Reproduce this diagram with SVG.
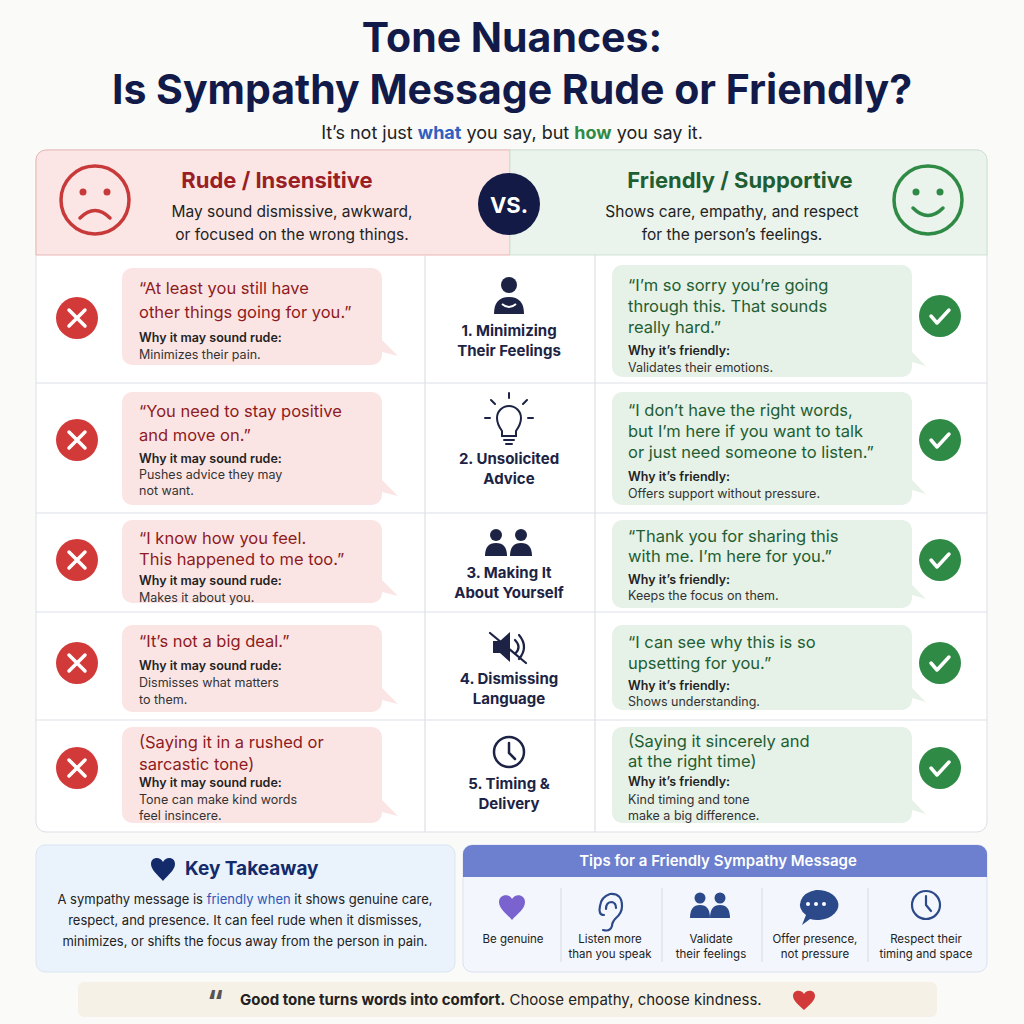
<svg xmlns="http://www.w3.org/2000/svg" width="1024" height="1024" viewBox="0 0 1024 1024">
<style>
text{font-family:"Inter","Liberation Sans",sans-serif}
.t{font-weight:700;fill:#111a48;text-anchor:middle}
.q{font-size:16.5px;fill:#8e1b22}
.qg{font-size:16.5px;fill:#1f5e32}
.w{font-size:12.5px;font-weight:600;fill:#222}
.d{font-size:12.5px;fill:#333}
.lab{font-size:15px;font-weight:700;fill:#1c2344;text-anchor:middle}
.bl{fill:#fbe5e4}
.bg{fill:#e6f1e7}
.sep{stroke:#dcdfe6;stroke-width:1.2}
.tip{font-size:11.5px;fill:#222;text-anchor:middle}
</style>
<rect width="1024" height="1024" fill="#fafaf8"/>
<text class="t" x="512" y="52" font-size="41">Tone Nuances:</text>
<text class="t" x="512" y="104" font-size="41">Is Sympathy Message Rude or Friendly?</text>
<text x="512" y="139" font-size="18" text-anchor="middle" fill="#222">It’s not just <tspan fill="#3060c0" font-weight="700">what</tspan> you say, but <tspan fill="#2f8a45" font-weight="700">how</tspan> you say it.</text>

<g id="panel">
<rect x="36" y="150" width="951" height="682" rx="10" fill="#fff" stroke="#dcdfe6"/>
<path d="M46 150H510V255H36V160A10 10 0 0 1 46 150Z" fill="#fbe6e5" stroke="#e7b7b5"/>
<path d="M510 150H977A10 10 0 0 1 987 160V255H510Z" fill="#eaf3ec" stroke="#cfe3d3"/>
<line class="sep" x1="36" y1="383" x2="987" y2="383"/>
<line class="sep" x1="36" y1="513" x2="987" y2="513"/>
<line class="sep" x1="36" y1="612" x2="987" y2="612"/>
<line class="sep" x1="36" y1="720" x2="987" y2="720"/>
<line class="sep" x1="425" y1="255" x2="425" y2="832"/>
<line class="sep" x1="595" y1="255" x2="595" y2="832"/>
</g>

<g id="header-rude">
<circle cx="95" cy="200" r="34" fill="none" stroke="#c83a3a" stroke-width="3.5"/>
<circle cx="83" cy="192" r="3.5" fill="#c83a3a"/><circle cx="107" cy="192" r="3.5" fill="#c83a3a"/>
<path d="M80 218Q95 203 110 218" fill="none" stroke="#c83a3a" stroke-width="3.5" stroke-linecap="round"/>
<text x="277" y="188" font-size="22" font-weight="700" fill="#9a1f25" text-anchor="middle">Rude / Insensitive</text>
<text x="292" y="217" font-size="15.5" fill="#222" text-anchor="middle">May sound dismissive, awkward,</text>
<text x="292" y="240" font-size="15.5" fill="#222" text-anchor="middle">or focused on the wrong things.</text>
</g>
<g id="vs">
<circle cx="509" cy="204" r="31" fill="#121a45"/>
<text x="509" y="213" font-size="22" font-weight="700" fill="#fff" text-anchor="middle">VS.</text>
</g>
<g id="header-friendly">
<circle cx="928" cy="200" r="34" fill="none" stroke="#2f8a45" stroke-width="3.5"/>
<circle cx="916" cy="192" r="3.5" fill="#2f8a45"/><circle cx="940" cy="192" r="3.5" fill="#2f8a45"/>
<path d="M913 208Q928 223 943 208" fill="none" stroke="#2f8a45" stroke-width="3.5" stroke-linecap="round"/>
<text x="740" y="188" font-size="22" font-weight="700" fill="#1f5e32" text-anchor="middle">Friendly / Supportive</text>
<text x="732" y="217" font-size="15.5" fill="#222" text-anchor="middle">Shows care, empathy, and respect</text>
<text x="732" y="240" font-size="15.5" fill="#222" text-anchor="middle">for the person’s feelings.</text>
</g>

<defs>
<g id="xic"><circle r="21" fill="#d23a3a"/><path d="M-8-8L8 8M8-8L-8 8" stroke="#fff" stroke-width="3.5" stroke-linecap="round"/></g>
<g id="cic"><circle r="21" fill="#2f8a45"/><path d="M-9 0L-3 7L9-6" fill="none" stroke="#fff" stroke-width="3.5" stroke-linecap="round" stroke-linejoin="round"/></g>
</defs>

<g id="row1">
<path class="bl" d="M132 268H372A10 10 0 0 1 382 278V340L398 356L382 352V355A10 10 0 0 1 372 365H132A10 10 0 0 1 122 355V278A10 10 0 0 1 132 268Z"/>
<use href="#xic" x="77" y="318"/>
<text class="q" x="139" y="294">“At least you still have</text>
<text class="q" x="139" y="318">other things going for you.”</text>
<text class="w" x="139" y="342">Why it may sound rude:</text>
<text class="d" x="139" y="359">Minimizes their pain.</text>
<circle cx="509" cy="285" r="8" fill="#1c2344"/>
<path d="M494 314Q494 297 509 297Q524 297 524 314Z" fill="#1c2344"/>
<path d="M502 304Q509 310 516 304" fill="none" stroke="#fff" stroke-width="2"/>
<text class="lab" x="509" y="336">1. Minimizing</text>
<text class="lab" x="509" y="356">Their Feelings</text>
<path class="bg" d="M622 265H902A10 10 0 0 1 912 275V352L926 366L912 362V367A10 10 0 0 1 902 377H622A10 10 0 0 1 612 367V275A10 10 0 0 1 622 265Z"/>
<text class="qg" x="628" y="291">“I’m so sorry you’re going</text>
<text class="qg" x="628" y="312">through this. That sounds</text>
<text class="qg" x="628" y="333">really hard.”</text>
<text class="w" x="628" y="355">Why it’s friendly:</text>
<text class="d" x="628" y="372">Validates their emotions.</text>
<use href="#cic" x="940" y="316"/>
</g>

<g id="row2">
<path class="bl" d="M132 392H372A10 10 0 0 1 382 402V480L398 496L382 492V495A10 10 0 0 1 372 505H132A10 10 0 0 1 122 495V402A10 10 0 0 1 132 392Z"/>
<use href="#xic" x="77" y="440"/>
<text class="q" x="139" y="417">“You need to stay positive</text>
<text class="q" x="139" y="441">and move on.”</text>
<text class="w" x="139" y="463">Why it may sound rude:</text>
<text class="d" x="139" y="479">Pushes advice they may</text>
<text class="d" x="139" y="495">not want.</text>
<g fill="none" stroke="#1c2344" stroke-width="2" stroke-linecap="round">
<path d="M502 431Q497 424 497 418A12 12 0 0 1 521 418Q521 424 516 431V436H502Z"/>
<path d="M504 440H514M506 444H512M509 398V393M490 418H485M528 418H533M495 404L491 400M523 404L527 400"/>
</g>
<text class="lab" x="509" y="464">2. Unsolicited</text>
<text class="lab" x="509" y="484">Advice</text>
<path class="bg" d="M622 392H902A10 10 0 0 1 912 402V480L926 494L912 490V495A10 10 0 0 1 902 505H622A10 10 0 0 1 612 495V402A10 10 0 0 1 622 392Z"/>
<text class="qg" x="628" y="416">“I don’t have the right words,</text>
<text class="qg" x="628" y="437">but I’m here if you want to talk</text>
<text class="qg" x="628" y="458">or just need someone to listen.”</text>
<text class="w" x="628" y="481">Why it’s friendly:</text>
<text class="d" x="628" y="498">Offers support without pressure.</text>
<use href="#cic" x="940" y="440"/>
</g>

<g id="row3">
<path class="bl" d="M132 520H372A10 10 0 0 1 382 530V580L398 596L382 592V593A10 10 0 0 1 372 603H132A10 10 0 0 1 122 593V530A10 10 0 0 1 132 520Z"/>
<use href="#xic" x="77" y="560"/>
<text class="q" x="139" y="544">“I know how you feel.</text>
<text class="q" x="139" y="565">This happened to me too.”</text>
<text class="w" x="139" y="585">Why it may sound rude:</text>
<text class="d" x="139" y="602">Makes it about you.</text>
<g fill="#1c2344">
<circle cx="496" cy="535" r="6"/><circle cx="521" cy="535" r="6"/>
<path d="M485 556Q485 543 496 543Q507 543 507 556Z"/><path d="M510 556Q510 543 521 543Q532 543 532 556Z"/>
</g>
<text class="lab" x="509" y="578">3. Making It</text>
<text class="lab" x="509" y="598">About Yourself</text>
<path class="bg" d="M622 520H902A10 10 0 0 1 912 530V585L926 599L912 595V598A10 10 0 0 1 902 608H622A10 10 0 0 1 612 598V530A10 10 0 0 1 622 520Z"/>
<text class="qg" x="628" y="542">“Thank you for sharing this</text>
<text class="qg" x="628" y="562">with me. I’m here for you.”</text>
<text class="w" x="628" y="584">Why it’s friendly:</text>
<text class="d" x="628" y="600">Keeps the focus on them.</text>
<use href="#cic" x="940" y="560"/>
</g>

<g id="row4">
<path class="bl" d="M132 625H372A10 10 0 0 1 382 635V688L398 704L382 700V702A10 10 0 0 1 372 712H132A10 10 0 0 1 122 702V635A10 10 0 0 1 132 625Z"/>
<use href="#xic" x="77" y="663"/>
<text class="q" x="139" y="647">“It’s not a big deal.”</text>
<text class="w" x="139" y="670">Why it may sound rude:</text>
<text class="d" x="139" y="687">Dismisses what matters</text>
<text class="d" x="139" y="704">to them.</text>
<path d="M493 641H500L510 632V662L500 653H493Z" fill="#1c2344"/>
<path d="M515 640Q522 647 515 654M519 635Q529 647 519 659M490 633L526 663" fill="none" stroke="#1c2344" stroke-width="2.2" stroke-linecap="round"/>
<text class="lab" x="509" y="684">4. Dismissing</text>
<text class="lab" x="509" y="704">Language</text>
<path class="bg" d="M622 625H902A10 10 0 0 1 912 635V688L926 702L912 698V700A10 10 0 0 1 902 710H622A10 10 0 0 1 612 700V635A10 10 0 0 1 622 625Z"/>
<text class="qg" x="628" y="648">“I can see why this is so</text>
<text class="qg" x="628" y="669">upsetting for you.”</text>
<text class="w" x="628" y="690">Why it’s friendly:</text>
<text class="d" x="628" y="706">Shows understanding.</text>
<use href="#cic" x="940" y="663"/>
</g>

<g id="row5">
<path class="bl" d="M132 727H372A10 10 0 0 1 382 737V800L398 816L382 812V813A10 10 0 0 1 372 823H132A10 10 0 0 1 122 813V737A10 10 0 0 1 132 727Z"/>
<use href="#xic" x="77" y="768"/>
<text class="q" x="139" y="748">(Saying it in a rushed or</text>
<text class="q" x="139" y="770">sarcastic tone)</text>
<text class="w" x="139" y="787">Why it may sound rude:</text>
<text class="d" x="139" y="804">Tone can make kind words</text>
<text class="d" x="139" y="820">feel insincere.</text>
<circle cx="509" cy="752" r="15" fill="none" stroke="#1c2344" stroke-width="2.5"/>
<path d="M509 743V753L515 759" fill="none" stroke="#1c2344" stroke-width="2.5" stroke-linecap="round"/>
<text class="lab" x="509" y="789">5. Timing &amp;</text>
<text class="lab" x="509" y="809">Delivery</text>
<path class="bg" d="M622 727H902A10 10 0 0 1 912 737V800L926 814L912 810V813A10 10 0 0 1 902 823H622A10 10 0 0 1 612 813V737A10 10 0 0 1 622 727Z"/>
<text class="qg" x="628" y="747">(Saying it sincerely and</text>
<text class="qg" x="628" y="767">at the right time)</text>
<text class="w" x="628" y="786">Why it’s friendly:</text>
<text class="d" x="628" y="804">Kind timing and tone</text>
<text class="d" x="628" y="820">make a big difference.</text>
<use href="#cic" x="940" y="768"/>
</g>

<g id="takeaway">
<rect x="36" y="845" width="419" height="127" rx="9" fill="#eaf2fb" stroke="#dbe5f1"/>
<path d="M163 862C160 856 151 857 151 864C151 870 158 875 163 881C168 875 175 870 175 864C175 857 166 856 163 862Z" fill="#132a6b"/>
<text x="185" y="875" font-size="19" font-weight="700" fill="#132a6b">Key Takeaway</text>
<text x="245" y="904" font-size="13" fill="#222" text-anchor="middle">A sympathy message is <tspan fill="#2f57b8">friendly when</tspan> it shows genuine care,</text>
<text x="245" y="925" font-size="13" fill="#222" text-anchor="middle">respect, and presence. It can feel rude when it dismisses,</text>
<text x="245" y="946" font-size="13" fill="#222" text-anchor="middle">minimizes, or shifts the focus away from the person in pain.</text>
</g>

<g id="tips">
<rect x="463" y="845" width="524" height="127" rx="9" fill="#f3f6fc" stroke="#dbe1f0"/>
<path d="M472 845H978A9 9 0 0 1 987 854V877H463V854A9 9 0 0 1 472 845Z" fill="#6c80cf"/>
<text x="718" y="866" font-size="15" font-weight="600" fill="#fff" text-anchor="middle">Tips for a Friendly Sympathy Message</text>
<g class="sep"><line x1="561" y1="888" x2="561" y2="962"/><line x1="662" y1="888" x2="662" y2="962"/><line x1="762" y1="888" x2="762" y2="962"/><line x1="868" y1="888" x2="868" y2="962"/></g>
<path d="M512 899C509 893 499 894 499 902C499 909 507 914 512 920C517 914 525 909 525 902C525 894 515 893 512 899Z" fill="#7a62cf"/>
<text class="tip" x="513" y="943">Be genuine</text>
<path d="M604 915Q598 915 600 906Q601 897 610 894Q622 893 622 906Q622 913 616 918Q612 922 612 926Q610 932 603 930M606 909Q606 902 612 902Q616 903 616 908" fill="none" stroke="#2c4a8a" stroke-width="2.2" stroke-linecap="round"/>
<text class="tip" x="610" y="943">Listen more</text>
<text class="tip" x="610" y="958">than you speak</text>
<g fill="#2c4a8a"><circle cx="700" cy="898" r="5.5"/><circle cx="720" cy="898" r="5.5"/><path d="M690 918Q690 905 700 905Q710 905 710 918Z"/><path d="M710 918Q710 905 720 905Q730 905 730 918Z"/></g>
<text class="tip" x="711" y="943">Validate</text>
<text class="tip" x="711" y="958">their feelings</text>
<path d="M816 890A21 15 0 1 1 810 919L802 925L806 915A21 15 0 0 1 816 890Z" fill="#2c4a8a"/>
<g fill="#fff"><circle cx="808" cy="904" r="2"/><circle cx="816" cy="904" r="2"/><circle cx="824" cy="904" r="2"/></g>
<text class="tip" x="815" y="943">Offer presence,</text>
<text class="tip" x="815" y="958">not pressure</text>
<circle cx="926" cy="905" r="14" fill="none" stroke="#2c4a8a" stroke-width="2.2"/>
<path d="M926 896V905L931 911" fill="none" stroke="#2c4a8a" stroke-width="2.2" stroke-linecap="round"/>
<text class="tip" x="926" y="943">Respect their</text>
<text class="tip" x="926" y="958">timing and space</text>
</g>

<g id="quote">
<rect x="78" y="982" width="859" height="35" rx="6" fill="#f6f1e6"/>
<text x="215" y="1012" font-size="30" font-weight="700" fill="#555" text-anchor="middle" font-family="Liberation Serif,serif">“</text>
<text x="240" y="1005" font-size="15" fill="#222"><tspan font-weight="700">Good tone turns words into comfort.</tspan>  Choose empathy, choose kindness.</text>
<path d="M804 994C801 989 793 990 793 996C793 1001 799 1005 804 1010C809 1005 815 1001 815 996C815 990 807 989 804 994Z" fill="#d23a3a"/>
</g>
</svg>
